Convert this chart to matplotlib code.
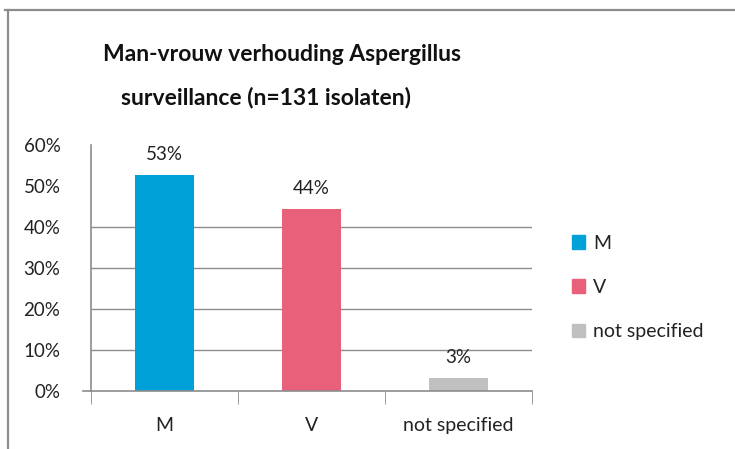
import matplotlib
matplotlib.use("Agg")
import matplotlib.pyplot as plt
from matplotlib.lines import Line2D
from matplotlib.patches import Patch

categories = ["M", "V", "not specified"]
values = [52.7, 44.3, 3.1]
labels = ["53%", "44%", "3%"]
yticks = [0, 10, 20, 30, 40, 50, 60]
colors = ["#00A0D8", "#E8607A", "#C0C0C0"]
title_lines = ["Man-vrouw verhouding Aspergillus", "surveillance (n=131 isolaten)"]

plt.rcParams['font.family'] = ['Lato', 'DejaVu Sans']

W, H = 735, 449
fig = plt.figure(figsize=(W/100, H/100), dpi=100)

# outer frame (left and top)
fig.add_artist(Line2D([8/W, 8/W], [0, 1 - 10/H], color="#8c8c8c", lw=1.6, transform=fig.transFigure))
fig.add_artist(Line2D([5/W, 1], [1 - 10/H, 1 - 10/H], color="#8c8c8c", lw=1.6, transform=fig.transFigure))

x0, x1 = 91, 532
y0, ytop = 391, 145
ax = fig.add_axes([x0/W, 1 - y0/H, (x1-x0)/W, (y0-ytop)/H])

xs = range(len(categories))
ax.bar(xs, values, width=0.4, color=colors, zorder=3)
for x, v, l in zip(xs, values, labels):
    ax.text(x, v + 3.0, l, ha="center", va="bottom", fontsize=13.5, color="#222222")

ax.set_xlim(-0.5, 2.5)
ax.set_ylim(0, 60)
ax.set_yticks(yticks)
ax.set_yticklabels([f"{t}%" for t in yticks], fontsize=13.5, color="#222222")
for t in yticks[1:5]:
    ax.axhline(t, color="#8c8c8c", lw=1, zorder=1)

ax.set_xticks(xs)
ax.set_xticklabels(categories, fontsize=14, color="#222222")
ax.set_xticks([-0.5, 0.5, 1.5, 2.5], minor=True)
ax.tick_params(axis="x", which="major", length=0, pad=19)
ax.tick_params(axis="x", which="minor", length=9, color="#8c8c8c", direction="out")
ax.tick_params(axis="y", which="major", length=0, pad=22)
ax.axhline(0, xmin=-8/(x1-x0), xmax=1, color="#8c8c8c", lw=1.2, clip_on=False, zorder=4)

for s in ["top", "right", "bottom"]:
    ax.spines[s].set_visible(False)
ax.spines["left"].set_color("#8c8c8c")
ax.spines["left"].set_linewidth(1.2)

handles = [Patch(color=c, label=n) for c, n in zip(colors, categories)]
fig.legend(handles=handles, loc="upper left", bbox_to_anchor=(566/W, 1 - 229/H),
           frameon=False, fontsize=14, handlelength=0.7, handleheight=0.7,
           handletextpad=0.4, labelspacing=1.4, labelcolor="#222222",
           borderaxespad=0, borderpad=0.3)

fig.text(282/W, 1 - 61/H, title_lines[0], ha="center", va="baseline",
         fontsize=16.5, fontweight="bold", color="#111111")
fig.text(266/W, 1 - 104/H, title_lines[1], ha="center", va="baseline",
         fontsize=16.5, fontweight="bold", color="#111111")

fig.savefig("out.png", dpi=100)
